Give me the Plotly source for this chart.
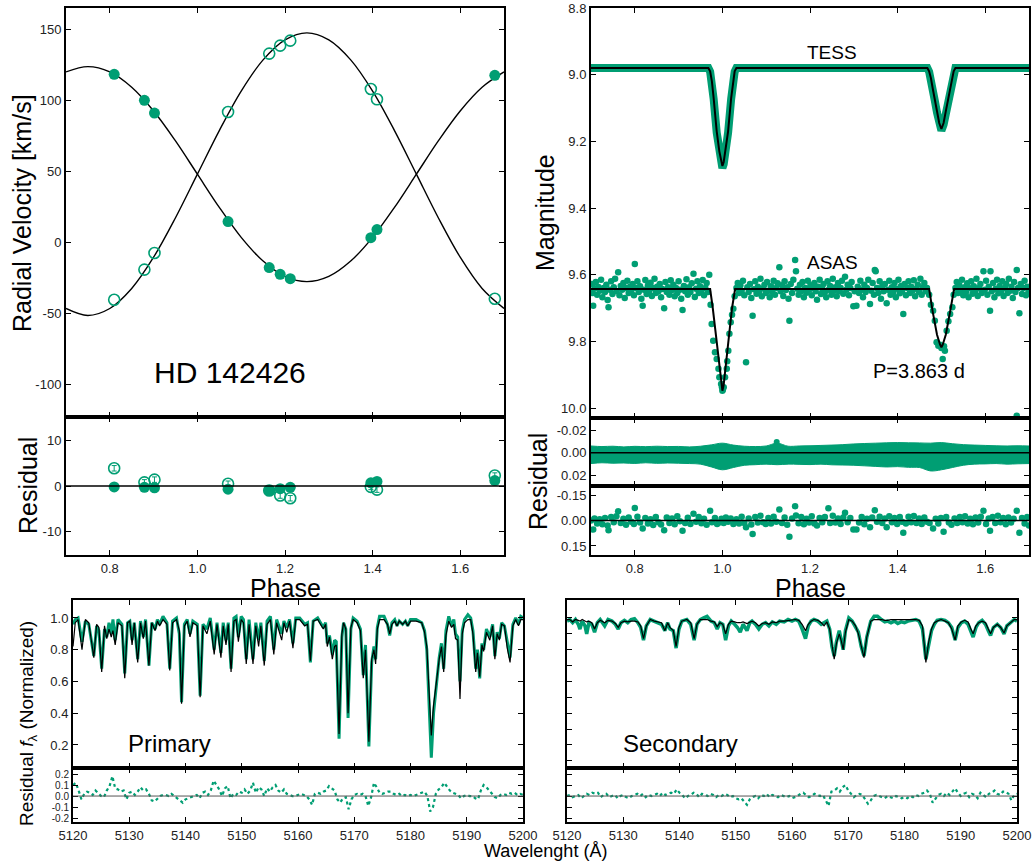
import plotly.graph_objects as go

# ======================= DATA =======================
# --- Radial velocities ---
rv_phase = [0.810, 0.879, 0.902, 1.070, 1.164, 1.189, 1.212, 1.396, 1.410, 1.679]
rv_primary = [118.3, 100.0, 91.0, 14.6, -17.8, -22.5, -25.6, 3.3, 9.0, 117.6]
rv_secondary = [-40.4, -19.2, -7.5, 91.8, 132.9, 138.5, 142.0, 108.0, 100.7, -39.7]
rv_res_primary = [-0.2, -0.3, -0.4, -0.7, -1.0, -0.6, -0.3, 0.7, 1.0, 1.2]
rv_res_secondary = [3.9, 0.8, 1.4, 0.5, -1.0, -2.1, -2.7, -0.2, -0.8, 2.3]
rv_res_secondary_err = [0.6, 0.6, 0.6, 0.6, 0.6, 0.6, 0.6, 0.6, 0.6, 0.6]
# model curves sampled every 0.05 in phase starting at 0.70
rv_model_start, rv_model_step = 0.70, 0.05
rv_model_primary = [120.0, 123.7, 120.0, 109.2, 92.5, 71.4, 48.0, 24.6, 3.5, -13.2, -24.0,
                    -27.7, -24.0, -13.2, 3.5, 24.6, 48.0, 71.4, 92.5, 109.2, 120.0]
rv_model_secondary = [-46.6, -51.5, -46.6, -32.5, -10.5, 17.3, 48.0, 78.7, 106.5, 128.5, 142.6,
                      147.5, 142.6, 128.5, 106.5, 78.7, 48.0, 17.3, -10.5, -32.5, -46.6]

# --- TESS light curve ---
tess_phase = [0.70, 0.968, 0.972, 0.976, 0.980, 0.987, 0.993, 0.997, 1.000, 1.003, 1.007,
              1.013, 1.020, 1.024, 1.028, 1.032, 1.468, 1.472, 1.476, 1.480, 1.485, 1.490,
              1.495, 1.500, 1.505, 1.510, 1.515, 1.520, 1.524, 1.528, 1.532, 1.70]
tess_obs = [8.980, 8.980, 8.991, 9.022, 9.073, 9.174, 9.236, 9.268, 9.280, 9.268, 9.236,
            9.174, 9.073, 9.022, 8.991, 8.980, 8.980, 8.991, 9.012, 9.042, 9.078, 9.114,
            9.150, 9.168, 9.150, 9.114, 9.078, 9.042, 9.012, 8.991, 8.980, 8.980]
tess_model = [8.980, 8.980, 8.990, 9.020, 9.070, 9.170, 9.230, 9.262, 9.274, 9.262, 9.230,
              9.170, 9.070, 9.020, 8.990, 8.980, 8.980, 8.990, 9.010, 9.040, 9.075, 9.110,
              9.145, 9.163, 9.145, 9.110, 9.075, 9.040, 9.010, 8.990, 8.980, 8.980]
# TESS residual scatter envelope, every 0.025 in phase from 0.70
tess_res_start, tess_res_step = 0.70, 0.025
tess_res_upper = [-0.0060, -0.0055, -0.0058, -0.0052, -0.0057, -0.0054, -0.0058, -0.0055, -0.0056,
                  -0.0052, -0.0058, -0.0070, -0.0085, -0.0068, -0.0058, -0.0055, -0.0060, -0.0085,
                  -0.0058, -0.0060, -0.0062, -0.0065, -0.0068, -0.0072, -0.0078, -0.0082, -0.0085,
                  -0.0088, -0.0090, -0.0088, -0.0087, -0.0085, -0.0090, -0.0080, -0.0072, -0.0068,
                  -0.0065, -0.0062, -0.0060, -0.0062, -0.0060]
tess_res_lower = [0.0095, 0.0088, 0.0092, 0.0090, 0.0094, 0.0088, 0.0093, 0.0090, 0.0092, 0.0095,
                  0.0100, 0.0125, 0.0150, 0.0130, 0.0110, 0.0105, 0.0100, 0.0105, 0.0100, 0.0102,
                  0.0104, 0.0100, 0.0106, 0.0108, 0.0110, 0.0115, 0.0120, 0.0125, 0.0122, 0.0128,
                  0.0130, 0.0160, 0.0150, 0.0130, 0.0110, 0.0100, 0.0098, 0.0095, 0.0100, 0.0097,
                  0.0095]
tess_res_outlier_phase = [1.124]
tess_res_outlier = [-0.0095]

# --- ASAS light curve ---
asas_phase = [
    0.702, 0.704, 0.705, 0.708, 0.711, 0.714, 0.717, 0.720, 0.723, 0.726,
    0.729, 0.732, 0.735, 0.738, 0.740, 0.743, 0.746, 0.749, 0.752, 0.755,
    0.758, 0.762, 0.765, 0.768, 0.771, 0.774, 0.777, 0.780, 0.783, 0.786,
    0.789, 0.792, 0.795, 0.798, 0.800, 0.803, 0.806, 0.809, 0.812, 0.815,
    0.818, 0.821, 0.824, 0.827, 0.830, 0.833, 0.836, 0.839, 0.842, 0.845,
    0.848, 0.851, 0.854, 0.857, 0.860, 0.863, 0.867, 0.870, 0.873, 0.876,
    0.879, 0.882, 0.885, 0.888, 0.891, 0.894, 0.897, 0.900, 0.903, 0.906,
    0.909, 0.912, 0.915, 0.918, 0.921, 0.924, 0.927, 0.930, 0.934, 0.937,
    0.940, 0.943, 0.946, 0.949, 0.952, 0.955, 0.958, 0.961, 0.964, 0.967,
    0.970, 0.973, 0.9755, 0.979, 0.983, 0.987, 0.991, 0.993, 0.997, 0.999,
    1.000, 1.001, 1.003, 1.006, 1.010, 1.011, 1.0135, 1.016, 1.019, 1.022,
    1.025, 1.028, 1.032, 1.035, 1.038, 1.041, 1.044, 1.047, 1.050, 1.054,
    1.057, 1.060, 1.063, 1.066, 1.069, 1.072, 1.075, 1.078, 1.081, 1.084,
    1.087, 1.090, 1.093, 1.096, 1.099, 1.102, 1.105, 1.108, 1.111, 1.114,
    1.117, 1.120, 1.123, 1.126, 1.130, 1.133, 1.136, 1.139, 1.142, 1.145,
    1.148, 1.151, 1.153, 1.156, 1.159, 1.162, 1.166, 1.168, 1.171, 1.174,
    1.177, 1.180, 1.183, 1.186, 1.189, 1.192, 1.195, 1.198, 1.201, 1.204,
    1.207, 1.210, 1.213, 1.216, 1.219, 1.222, 1.225, 1.228, 1.231, 1.234,
    1.237, 1.240, 1.243, 1.246, 1.249, 1.252, 1.255, 1.258, 1.261, 1.264,
    1.267, 1.270, 1.273, 1.276, 1.280, 1.283, 1.286, 1.289, 1.292, 1.295,
    1.299, 1.302, 1.306, 1.309, 1.312, 1.315, 1.318, 1.321, 1.324, 1.327,
    1.330, 1.333, 1.337, 1.340, 1.343, 1.346, 1.348, 1.350, 1.353, 1.356,
    1.359, 1.362, 1.365, 1.368, 1.371, 1.375, 1.378, 1.381, 1.384, 1.387,
    1.390, 1.393, 1.396, 1.399, 1.402, 1.405, 1.408, 1.410, 1.413, 1.416,
    1.419, 1.422, 1.425, 1.428, 1.431, 1.434, 1.437, 1.440, 1.443, 1.446,
    1.449, 1.452, 1.455, 1.458, 1.461, 1.464, 1.467, 1.472, 1.476, 1.481,
    1.485, 1.489, 1.493, 1.497, 1.500, 1.503, 1.506, 1.508, 1.512, 1.516,
    1.520, 1.525, 1.528, 1.532, 1.535, 1.538, 1.541, 1.544, 1.547, 1.550,
    1.553, 1.556, 1.559, 1.562, 1.565, 1.568, 1.571, 1.574, 1.577, 1.580,
    1.583, 1.586, 1.589, 1.592, 1.596, 1.599, 1.602, 1.605, 1.608, 1.611,
    1.612, 1.615, 1.618, 1.621, 1.624, 1.627, 1.630, 1.633, 1.636, 1.639,
    1.642, 1.645, 1.648, 1.651, 1.654, 1.657, 1.660, 1.663, 1.666, 1.669,
    1.672, 1.672, 1.675, 1.678, 1.681, 1.684, 1.687, 1.690, 1.693, 1.696,
    1.699]
asas_mag = [
    9.628, 9.655, 9.693, 9.641, 9.622, 9.660, 9.637, 9.648, 9.615, 9.668,
    9.640, 9.652, 9.630, 9.676, 9.698, 9.645, 9.620, 9.658, 9.638, 9.612,
    9.650, 9.593, 9.662, 9.634, 9.645, 9.625, 9.670, 9.640, 9.618, 9.655,
    9.636, 9.648, 9.628, 9.662, 9.568, 9.640, 9.620, 9.652, 9.635, 9.672,
    9.693, 9.645, 9.616, 9.658, 9.632, 9.648, 9.624, 9.664, 9.640, 9.612,
    9.655, 9.636, 9.650, 9.628, 9.668, 9.643, 9.701, 9.622, 9.652, 9.638,
    9.660, 9.617, 9.646, 9.630, 9.665, 9.640, 9.655, 9.620, 9.645, 9.672,
    9.706, 9.634, 9.650, 9.614, 9.660, 9.638, 9.652, 9.626, 9.597, 9.667,
    9.642, 9.620, 9.655, 9.635, 9.648, 9.616, 9.662, 9.640, 9.625, 9.652,
    9.600, 9.690, 9.748, 9.798, 9.833, 9.853, 9.882, 9.908, 9.928, 9.938,
    9.948, 9.945, 9.938, 9.908, 9.882, 9.860, 9.828, 9.777, 9.743, 9.720,
    9.702, 9.665, 9.640, 9.625, 9.655, 9.632, 9.648, 9.618, 9.662, 9.863,
    9.638, 9.652, 9.628, 9.670, 9.723, 9.644, 9.620, 9.657, 9.636, 9.650,
    9.612, 9.665, 9.641, 9.630, 9.655, 9.622, 9.648, 9.668, 9.635, 9.652,
    9.618, 9.660, 9.640, 9.626, 9.578, 9.650, 9.632, 9.664, 9.620, 9.646,
    9.638, 9.672, 9.738, 9.628, 9.655, 9.615, 9.556, 9.590, 9.642, 9.660,
    9.630, 9.650, 9.622, 9.668, 9.640, 9.654, 9.618, 9.645, 9.632, 9.662,
    9.640, 9.625, 9.650, 9.675, 9.636, 9.615, 9.658, 9.642, 9.628, 9.652,
    9.668, 9.620, 9.645, 9.634, 9.660, 9.612, 9.648, 9.638, 9.665, 9.625,
    9.650, 9.640, 9.618, 9.657, 9.606, 9.645, 9.630, 9.662, 9.640, 9.622,
    9.695, 9.650, 9.693, 9.636, 9.655, 9.618, 9.645, 9.668, 9.630, 9.652,
    9.640, 9.615, 9.688, 9.648, 9.625, 9.660, 9.586, 9.590, 9.640, 9.655,
    9.620, 9.672, 9.635, 9.650, 9.628, 9.686, 9.645, 9.618, 9.660, 9.638,
    9.652, 9.625, 9.668, 9.642, 9.615, 9.656, 9.634, 9.650, 9.718, 9.628,
    9.662, 9.640, 9.620, 9.655, 9.636, 9.648, 9.617, 9.665, 9.642, 9.630,
    9.652, 9.612, 9.660, 9.638, 9.625, 9.650, 9.640, 9.660, 9.690, 9.708,
    9.738, 9.803, 9.813, 9.810, 9.820, 9.853, 9.815, 9.828, 9.768, 9.740,
    9.718, 9.698, 9.660, 9.640, 9.622, 9.655, 9.632, 9.648, 9.615, 9.662,
    9.638, 9.652, 9.626, 9.668, 9.641, 9.620, 9.657, 9.635, 9.650, 9.612,
    9.664, 9.640, 9.628, 9.655, 9.590, 9.645, 9.618, 9.660, 9.636, 9.708,
    9.590, 9.650, 9.625, 9.668, 9.642, 9.615, 9.656, 9.634, 9.650, 9.620,
    9.664, 9.640, 9.628, 9.655, 9.612, 9.648, 9.636, 9.670, 9.622, 9.652,
    9.586, 10.023, 9.640, 9.716, 9.628, 9.658, 9.640, 9.618, 9.662, 9.636,
    9.650]
asas_model_phase = [0.70, 0.972, 0.978, 0.985, 0.992, 0.997, 1.000, 1.003, 1.008, 1.015, 1.022,
                    1.029, 1.472, 1.480, 1.490, 1.497, 1.500, 1.503, 1.510, 1.520, 1.529, 1.70]
asas_model = [9.643, 9.643, 9.700, 9.780, 9.870, 9.930, 9.948, 9.930, 9.870, 9.780, 9.700,
              9.643, 9.643, 9.710, 9.780, 9.810, 9.818, 9.810, 9.780, 9.710, 9.643, 9.643]
asas_res_phase = [
    0.700, 0.705, 0.708, 0.714, 0.720, 0.726, 0.732, 0.738, 0.740, 0.746,
    0.752, 0.758, 0.762, 0.768, 0.774, 0.780, 0.786, 0.792, 0.798, 0.800,
    0.806, 0.812, 0.818, 0.824, 0.830, 0.836, 0.842, 0.848, 0.854, 0.860,
    0.867, 0.873, 0.879, 0.885, 0.891, 0.897, 0.903, 0.909, 0.915, 0.921,
    0.927, 0.934, 0.940, 0.946, 0.952, 0.958, 0.964, 0.972, 0.976, 0.983,
    0.988, 0.993, 0.998, 1.003, 1.008, 1.013, 1.019, 1.025, 1.032, 1.038,
    1.044, 1.050, 1.054, 1.060, 1.066, 1.069, 1.075, 1.081, 1.087, 1.093,
    1.099, 1.105, 1.111, 1.117, 1.123, 1.130, 1.136, 1.142, 1.148, 1.153,
    1.159, 1.166, 1.168, 1.174, 1.180, 1.186, 1.192, 1.198, 1.204, 1.210,
    1.216, 1.222, 1.228, 1.234, 1.242, 1.246, 1.252, 1.258, 1.264, 1.270,
    1.276, 1.280, 1.286, 1.292, 1.299, 1.306, 1.312, 1.318, 1.324, 1.330,
    1.337, 1.342, 1.348, 1.353, 1.359, 1.365, 1.371, 1.375, 1.381, 1.387,
    1.393, 1.399, 1.405, 1.410, 1.413, 1.419, 1.425, 1.431, 1.437, 1.443,
    1.449, 1.455, 1.461, 1.467, 1.473, 1.481, 1.487, 1.493, 1.499, 1.505,
    1.511, 1.517, 1.523, 1.530, 1.536, 1.542, 1.548, 1.554, 1.560, 1.566,
    1.572, 1.578, 1.584, 1.590, 1.596, 1.602, 1.608, 1.611, 1.617, 1.623,
    1.629, 1.635, 1.641, 1.647, 1.653, 1.659, 1.665, 1.672, 1.678, 1.684,
    1.690, 1.696, 1.700]
asas_res = [
    0.000, 0.053, -0.012, 0.018, -0.008, 0.022, -0.015, 0.030, 0.057, -0.020,
    0.010, -0.025, -0.055, 0.015, -0.010, 0.025, -0.018, 0.008, 0.020, -0.074,
    -0.022, 0.012, 0.047, -0.015, 0.018, -0.008, 0.026, -0.020, 0.010, 0.024,
    0.057, -0.018, 0.015, -0.012, 0.022, -0.025, 0.005, 0.060, 0.014, -0.016,
    0.020, -0.040, 0.008, -0.020, 0.016, -0.010, 0.025, -0.057, 0.010, -0.015,
    0.020, 0.012, -0.010, 0.015, -0.018, 0.008, -0.012, 0.020, -0.008, 0.018,
    -0.022, 0.015, 0.040, -0.012, 0.024, 0.080, -0.020, 0.012, -0.028, 0.010,
    0.020, -0.015, 0.018, -0.022, 0.008, -0.064, 0.014, -0.018, 0.025, 0.095,
    -0.012, -0.084, -0.030, 0.016, -0.020, 0.022, -0.010, 0.012, -0.025, 0.018,
    0.030, -0.015, 0.010, -0.020, -0.072, 0.015, -0.028, 0.012, -0.012, 0.020,
    -0.018, -0.045, 0.010, -0.015, 0.053, 0.053, 0.012, -0.020, 0.022, -0.010,
    0.040, -0.018, -0.060, 0.008, -0.022, 0.015, -0.012, 0.040, -0.025, 0.010,
    -0.015, 0.020, -0.020, 0.008, 0.072, 0.018, -0.022, 0.010, -0.026, 0.015,
    -0.012, 0.020, -0.018, 0.008, 0.015, 0.047, -0.010, 0.018, -0.015, 0.066,
    -0.020, 0.012, 0.025, -0.012, 0.015, -0.020, 0.010, -0.025, 0.018, -0.010,
    0.022, -0.018, 0.012, -0.022, -0.057, 0.020, -0.012, 0.060, -0.020, 0.015,
    -0.028, 0.010, -0.015, 0.022, -0.018, 0.012, -0.010, -0.057, 0.072, -0.015,
    0.018, -0.020, 0.030]

# --- Spectra: primary ---
prim_wl = [
    5120.0, 5120.4, 5120.9, 5121.6, 5122.2, 5122.8, 5123.3, 5123.7, 5124.2, 5124.6,
    5125.1, 5125.6, 5126.0, 5126.4, 5126.8, 5127.1, 5127.5, 5128.0, 5128.7, 5129.2,
    5129.7, 5130.1, 5130.5, 5130.9, 5131.5, 5132.0, 5132.5, 5132.9, 5133.5, 5134.0,
    5134.6, 5135.0, 5135.4, 5136.0, 5136.7, 5137.2, 5137.7, 5138.4, 5138.9, 5139.3,
    5139.8, 5140.3, 5140.8, 5141.3, 5142.1, 5142.6, 5143.1, 5143.8, 5144.4, 5145.1,
    5145.6, 5146.3, 5146.7, 5147.2, 5147.6, 5148.1, 5148.6, 5149.0, 5149.4, 5149.9,
    5150.3, 5150.8, 5151.3, 5152.0, 5152.5, 5153.0, 5153.4, 5154.0, 5154.5, 5155.1,
    5155.7, 5156.2, 5157.1, 5157.5, 5158.0, 5158.5, 5159.1, 5159.6, 5160.3, 5161.2,
    5161.7, 5162.2, 5162.7, 5163.5, 5164.5, 5164.9, 5165.2, 5165.6, 5166.1, 5166.5,
    5166.8, 5167.3, 5167.8, 5168.1, 5168.5, 5168.9, 5169.4, 5169.8, 5170.5, 5171.1,
    5171.6, 5172.0, 5172.6, 5173.1, 5173.5, 5173.8, 5174.1, 5174.5, 5175.3, 5175.9,
    5176.3, 5176.7, 5177.2, 5177.6, 5178.0, 5178.6, 5179.1, 5179.5, 5180.0, 5181.0,
    5182.0, 5182.5, 5182.9, 5183.3, 5183.7, 5184.1, 5184.6, 5185.1, 5185.5, 5185.9,
    5186.3, 5186.8, 5187.3, 5187.7, 5188.0, 5188.4, 5188.8, 5189.2, 5189.6, 5190.2,
    5190.7, 5191.1, 5191.6, 5191.9, 5192.3, 5192.7, 5193.0, 5193.5, 5194.1, 5194.6,
    5195.0, 5195.4, 5195.8, 5196.2, 5196.7, 5197.2, 5197.7, 5198.2, 5198.7, 5199.2,
    5199.6, 5200.0]
prim_obs = [
    0.96, 0.99, 1.00, 0.85, 0.98, 0.96, 0.85, 0.76, 0.95, 0.92,
    0.68, 0.93, 0.88, 0.97, 0.90, 0.99, 0.86, 0.99, 0.96, 0.65,
    0.97, 0.98, 0.86, 0.97, 0.74, 0.98, 0.88, 0.99, 0.70, 0.97,
    0.93, 0.99, 0.96, 1.01, 0.97, 0.68, 0.98, 1.00, 0.90, 0.47,
    0.96, 0.99, 0.90, 0.98, 0.96, 0.51, 0.96, 0.93, 1.00, 0.80,
    0.97, 0.78, 0.97, 0.86, 0.97, 0.68, 1.00, 1.01, 0.88, 1.01,
    0.99, 0.74, 0.99, 0.74, 0.97, 0.86, 0.97, 0.73, 0.98, 1.01,
    0.80, 0.99, 0.90, 0.98, 0.94, 0.99, 0.84, 1.00, 1.00, 0.96,
    0.97, 0.72, 0.98, 1.00, 0.94, 0.97, 0.84, 0.89, 0.77, 0.86,
    0.85, 0.24, 0.88, 0.97, 0.93, 0.37, 0.93, 1.00, 0.98, 0.93,
    0.64, 0.83, 0.19, 0.72, 0.82, 0.74, 0.94, 1.01, 1.01, 0.96,
    0.89, 0.97, 0.99, 0.95, 0.98, 0.96, 0.98, 0.95, 0.99, 0.99,
    0.97, 0.92, 0.80, 0.45, 0.12, 0.40, 0.60, 0.75, 0.84, 0.68,
    0.92, 1.01, 0.95, 0.99, 0.90, 0.88, 0.60, 0.92, 0.99, 1.02,
    1.00, 0.92, 0.68, 0.80, 0.62, 0.84, 0.80, 0.93, 0.88, 0.96,
    0.76, 0.91, 0.87, 0.97, 0.95, 0.84, 0.75, 0.96, 1.00, 0.96,
    1.01, 1.00]
prim_model = [
    0.82, 0.97, 0.99, 0.80, 0.99, 0.97, 0.85, 0.75, 0.96, 0.94,
    0.66, 0.95, 0.87, 0.93, 0.88, 0.92, 0.83, 0.97, 0.95, 0.62,
    0.97, 0.98, 0.83, 0.97, 0.72, 0.97, 0.87, 0.98, 0.70, 0.97,
    0.92, 0.98, 0.95, 0.99, 0.96, 0.67, 0.97, 0.99, 0.92, 0.46,
    0.95, 0.98, 0.88, 0.97, 0.95, 0.50, 0.95, 0.90, 0.98, 0.77,
    0.96, 0.75, 0.95, 0.83, 0.96, 0.66, 0.98, 0.99, 0.85, 0.99,
    0.97, 0.71, 0.96, 0.71, 0.95, 0.82, 0.95, 0.70, 0.96, 0.99,
    0.77, 0.97, 0.86, 0.97, 0.91, 0.98, 0.81, 0.99, 0.99, 0.95,
    0.96, 0.73, 0.98, 0.99, 0.93, 0.96, 0.82, 0.88, 0.74, 0.82,
    0.83, 0.27, 0.90, 0.97, 0.93, 0.40, 0.94, 0.99, 0.97, 0.92,
    0.62, 0.80, 0.22, 0.74, 0.80, 0.71, 0.93, 0.99, 0.99, 0.96,
    0.90, 0.96, 0.98, 0.95, 0.98, 0.96, 0.98, 0.95, 0.98, 0.98,
    0.97, 0.91, 0.82, 0.50, 0.26, 0.45, 0.60, 0.74, 0.82, 0.66,
    0.89, 0.98, 0.94, 0.96, 0.87, 0.86, 0.49, 0.90, 0.97, 0.99,
    0.99, 0.90, 0.66, 0.78, 0.63, 0.83, 0.79, 0.91, 0.86, 0.95,
    0.74, 0.90, 0.86, 0.96, 0.95, 0.81, 0.72, 0.95, 0.99, 0.95,
    0.99, 0.99]
# residuals sampled every 0.5 A from 5120 A
spec_res_start, spec_res_step = 5120.0, 0.5
prim_res = [
    0.10, 0.12, 0.05, -0.03, 0.02, 0.04, 0.03, 0.01, 0.05, 0.02,
    0.00, -0.01, 0.05, 0.09, 0.18, 0.07, 0.06, 0.04, 0.05, -0.03,
    0.03, 0.04, 0.01, 0.04, 0.08, 0.05, 0.06, 0.02, -0.04, -0.05,
    -0.02, 0.00, 0.01, 0.01, 0.00, 0.02, 0.00, -0.02, -0.04, -0.06,
    -0.03, -0.02, -0.01, 0.00, 0.01, -0.02, 0.03, 0.04, 0.01, 0.05,
    0.14, 0.10, 0.06, 0.00, 0.07, 0.09, -0.02, 0.02, 0.01, 0.04,
    0.03, 0.06, 0.02, 0.05, 0.12, 0.03, 0.08, 0.06, 0.00, 0.07,
    0.04, 0.08, 0.10, 0.05, 0.03, 0.06, 0.02, 0.01, 0.00, 0.00,
    0.01, 0.02, 0.01, 0.00, -0.03, -0.08, 0.02, 0.03, 0.02, 0.04,
    0.05, 0.09, 0.07, 0.05, -0.03, -0.06, -0.02, -0.01, -0.12, -0.03,
    0.01, 0.02, 0.01, 0.02, 0.00, -0.09, -0.01, 0.12, 0.08, 0.03,
    0.02, 0.03, 0.04, 0.04, 0.02, 0.01, 0.02, 0.00, 0.01, 0.00,
    0.01, 0.00, 0.01, 0.02, 0.03, 0.04, 0.00, -0.14, -0.10, 0.02,
    0.06, 0.08, 0.12, 0.08, 0.05, 0.03, 0.02, 0.01, -0.02, 0.00,
    0.01, 0.00, 0.00, -0.02, -0.03, 0.05, 0.10, 0.08, 0.05, 0.02,
    -0.01, -0.02, 0.01, 0.02, 0.01, 0.03, 0.02, 0.03, 0.01, 0.02,
    0.01]

# --- Spectra: secondary ---
sec_wl = [
    5120.0, 5120.5, 5121.0, 5121.5, 5122.0, 5122.3, 5122.7, 5123.2, 5123.5, 5123.9,
    5124.4, 5124.9, 5125.4, 5125.9, 5126.7, 5127.3, 5128.0, 5128.6, 5129.1, 5129.6,
    5130.2, 5130.8, 5131.4, 5132.0, 5132.6, 5133.1, 5133.6, 5134.1, 5134.8, 5135.5,
    5136.2, 5136.8, 5137.4, 5137.9, 5138.3, 5138.9, 5139.4, 5139.9, 5140.4, 5141.3,
    5142.0, 5142.6, 5143.1, 5143.7, 5144.3, 5144.9, 5145.6, 5146.2, 5146.7, 5147.2,
    5147.7, 5148.2, 5148.7, 5149.2, 5149.8, 5150.3, 5150.8, 5151.3, 5152.0, 5152.5,
    5152.9, 5153.5, 5154.1, 5154.7, 5155.3, 5155.9, 5156.5, 5157.2, 5157.8, 5158.6,
    5159.3, 5160.0, 5160.6, 5161.2, 5161.8, 5162.4, 5162.9, 5163.4, 5163.9, 5164.6,
    5165.2, 5165.7, 5166.2, 5166.7, 5167.1, 5167.5, 5167.9, 5168.4, 5168.8, 5169.1,
    5169.5, 5170.1, 5170.7, 5171.3, 5171.8, 5172.3, 5172.8, 5173.3, 5174.0, 5174.6,
    5175.2, 5175.9, 5176.5, 5177.0, 5177.6, 5178.2, 5178.8, 5179.4, 5180.0, 5180.6,
    5181.3, 5182.0, 5182.6, 5183.2, 5183.8, 5184.3, 5184.8, 5185.3, 5185.8, 5186.5,
    5187.2, 5187.8, 5188.4, 5189.0, 5189.5, 5190.1, 5190.7, 5191.3, 5191.8, 5192.2,
    5192.7, 5193.2, 5193.8, 5194.4, 5194.9, 5195.3, 5195.8, 5196.5, 5197.1, 5197.7,
    5198.2, 5198.9, 5199.5, 5200.0]
sec_obs = [
    0.98, 0.99, 0.97, 0.99, 0.96, 0.93, 0.98, 0.95, 0.90, 0.97,
    0.96, 0.91, 0.97, 0.99, 0.95, 0.99, 0.98, 0.96, 0.93, 0.97,
    0.985, 0.97, 0.99, 0.995, 0.97, 0.94, 0.86, 0.95, 0.99, 0.98,
    0.97, 0.96, 0.92, 0.97, 0.93, 0.92, 0.81, 0.93, 0.98, 0.99,
    0.96, 0.86, 0.96, 0.99, 1.00, 1.01, 0.98, 0.97, 0.93, 0.97,
    0.96, 0.86, 0.95, 0.98, 0.96, 0.94, 0.91, 0.96, 0.92, 0.97,
    0.98, 0.96, 0.93, 0.96, 0.97, 0.95, 0.975, 0.96, 0.98, 0.975,
    0.99, 0.98, 0.99, 0.98, 0.93, 0.87, 0.95, 0.98, 0.99, 0.98,
    0.96, 0.97, 0.98, 0.93, 0.82, 0.76, 0.85, 0.92, 0.86, 0.80,
    0.92, 1.00, 0.98, 0.94, 0.91, 0.82, 0.76, 0.88, 0.98, 1.01,
    1.01, 0.99, 0.975, 0.98, 0.97, 0.98, 0.965, 0.975, 0.97, 0.98,
    0.985, 0.99, 0.98, 0.93, 0.74, 0.84, 0.92, 0.96, 0.985, 0.99,
    0.985, 0.97, 0.94, 0.86, 0.94, 0.97, 0.98, 0.96, 0.92, 0.88,
    0.94, 0.97, 0.985, 0.96, 0.92, 0.89, 0.94, 0.96, 0.94, 0.90,
    0.95, 0.97, 0.99, 0.98]
sec_model = [
    0.99, 0.99, 0.975, 0.99, 0.985, 0.98, 0.99, 0.98, 0.975, 0.98,
    0.97, 0.93, 0.97, 0.985, 0.97, 0.985, 0.98, 0.965, 0.94, 0.97,
    0.98, 0.975, 0.98, 0.98, 0.975, 0.95, 0.87, 0.95, 0.99, 0.98,
    0.975, 0.97, 0.92, 0.97, 0.94, 0.92, 0.82, 0.94, 0.98, 0.99,
    0.97, 0.87, 0.96, 0.99, 0.99, 0.99, 0.98, 0.975, 0.945, 0.97,
    0.96, 0.90, 0.96, 0.98, 0.975, 0.97, 0.97, 0.975, 0.965, 0.975,
    0.98, 0.97, 0.95, 0.965, 0.97, 0.96, 0.975, 0.97, 0.98, 0.98,
    0.985, 0.99, 0.99, 0.985, 0.96, 0.92, 0.96, 0.98, 0.99, 0.985,
    0.97, 0.95, 0.975, 0.93, 0.82, 0.74, 0.84, 0.90, 0.85, 0.80,
    0.91, 0.99, 0.98, 0.95, 0.90, 0.83, 0.75, 0.88, 0.98, 0.99,
    0.99, 0.99, 0.985, 0.985, 0.99, 0.99, 0.99, 0.99, 0.99, 0.99,
    0.99, 0.99, 0.985, 0.95, 0.72, 0.85, 0.93, 0.97, 0.98, 0.99,
    0.98, 0.97, 0.93, 0.86, 0.95, 0.975, 0.985, 0.975, 0.93, 0.90,
    0.95, 0.97, 0.98, 0.97, 0.93, 0.90, 0.94, 0.96, 0.94, 0.905,
    0.95, 0.975, 0.99, 0.99]
sec_res = [
    0.00, 0.01, -0.01, 0.00, 0.01, -0.02, 0.00, 0.02, 0.01, 0.03,
    0.02, 0.03, -0.01, 0.01, 0.02, -0.01, 0.00, 0.01, -0.02, 0.00,
    0.01, -0.01, -0.02, 0.00, 0.01, 0.02, 0.00, 0.02, -0.01, 0.01,
    0.00, 0.01, 0.02, 0.00, 0.03, 0.01, 0.02, 0.03, 0.02, 0.06,
    0.03, 0.01, -0.02, 0.00, 0.01, 0.03, 0.02, -0.01, 0.02, 0.01,
    0.00, 0.02, 0.01, -0.01, 0.01, 0.00, 0.02, 0.01, -0.01, 0.00,
    -0.02, -0.03, -0.02, -0.05, -0.08, -0.03, -0.01, 0.00, -0.02, 0.01,
    0.00, 0.02, -0.01, 0.01, 0.00, -0.01, 0.01, 0.00, -0.01, 0.00,
    -0.02, -0.01, 0.00, 0.02, 0.03, 0.01, -0.01, 0.00, 0.02, 0.01,
    0.00, 0.01, -0.04, -0.09, 0.04, 0.05, 0.07, 0.04, 0.08, 0.10,
    0.05, 0.02, -0.01, 0.01, 0.02, 0.01, -0.03, -0.07, -0.04, 0.00,
    0.01, 0.00, -0.01, -0.02, 0.00, -0.01, -0.02, 0.00, -0.01, -0.02,
    -0.01, -0.02, 0.00, -0.01, 0.01, 0.00, 0.02, 0.03, 0.05, 0.02,
    -0.06, -0.02, 0.01, 0.02, 0.00, 0.03, 0.01, 0.04, 0.07, 0.03,
    0.00, 0.02, 0.03, -0.01, 0.02, 0.01, -0.02, 0.03, 0.01, -0.01,
    0.02, 0.03, 0.05, 0.02, 0.01, 0.04, 0.04, 0.02, -0.04, 0.01,
    0.02]

# --- tick values / labels ---
phase_ticks = [0.8, 1.0, 1.2, 1.4, 1.6]
phase_ticktext = ["0.8", "1.0", "1.2", "1.4", "1.6"]
rv_ticks = [-100, -50, 0, 50, 100, 150]
rv_ticktext = ["-100", "-50", "0", "50", "100", "150"]
rvres_ticks = [-10, 0, 10]
rvres_ticktext = ["-10", "0", "10"]
mag_ticks = [8.8, 9.0, 9.2, 9.4, 9.6, 9.8, 10.0]
mag_ticktext = ["8.8", "9.0", "9.2", "9.4", "9.6", "9.8", "10.0"]
tres_ticks = [-0.02, 0.0, 0.02]
tres_ticktext = ["-0.02", "0.00", "0.02"]
ares_ticks = [-0.15, 0.0, 0.15]
ares_ticktext = ["-0.15", "0.00", "0.15"]
wl_ticks = [5120, 5130, 5140, 5150, 5160, 5170, 5180, 5190, 5200]
wl_ticktext = ["5120", "5130", "5140", "5150", "5160", "5170", "5180", "5190", "5200"]
flux_ticks = [0.2, 0.4, 0.6, 0.8, 1.0]
flux_ticktext = ["0.2", "0.4", "0.6", "0.8", "1.0"]
flux_fine_ticks = [0.1, 0.2, 0.3, 0.4, 0.5, 0.6, 0.7, 0.8, 0.9, 1.0]
sres_ticks = [-0.2, -0.1, 0.0, 0.1, 0.2]
sres_ticktext = ["-0.2", "-0.1", "0.0", "0.1", "0.2"]

# ======================= FIGURE =======================
W, H = 1032, 862
GREEN = "#009E73"
FONT = "Liberation Sans, Arial, Helvetica, sans-serif"
TICKFONT = dict(family=FONT, size=13, color="#222")
SMALLTICKFONT = dict(family=FONT, size=10, color="#222")


def xd(a, b):
    return [a / W, b / W]


def yd(top, bottom):
    return [1 - bottom / H, 1 - top / H]


def frame(domain, rng, anchor, tickvals, ticktext=None, labels=True, font=TICKFONT):
    d = dict(domain=domain, range=rng, autorange=False, anchor=anchor, automargin=False,
             showline=True, linewidth=2, linecolor="black", mirror="ticks", ticks="inside",
             ticklen=5, tickwidth=1.3, tickcolor="black", showgrid=False, zeroline=False,
             tickfont=font, tickmode="array", tickvals=tickvals,
             showticklabels=labels)
    if ticktext is not None:
        d["ticktext"] = ticktext
    return d


fig = go.Figure()

# ---- RV panel ----
fig.add_trace(go.Scatter(x0=rv_model_start, dx=rv_model_step, y=rv_model_primary, mode="lines",
                         line=dict(color="black", width=1.4, shape="spline"),
                         xaxis="x", yaxis="y"))
fig.add_trace(go.Scatter(x0=rv_model_start, dx=rv_model_step, y=rv_model_secondary, mode="lines",
                         line=dict(color="black", width=1.4, shape="spline"),
                         xaxis="x", yaxis="y"))
fig.add_trace(go.Scatter(x=rv_phase, y=rv_primary, mode="markers",
                         marker=dict(color=GREEN, size=11, symbol="circle"),
                         xaxis="x", yaxis="y"))
fig.add_trace(go.Scatter(x=rv_phase, y=rv_secondary, mode="markers",
                         marker=dict(color=GREEN, size=11, symbol="circle-open",
                                     line=dict(width=1.6, color=GREEN)),
                         xaxis="x", yaxis="y"))
# ---- RV residuals ----
fig.add_trace(go.Scatter(x=rv_phase, y=rv_res_secondary, mode="markers",
                         marker=dict(color=GREEN, size=11, symbol="circle-open",
                                     line=dict(width=1.6, color=GREEN)),
                         error_y=dict(type="data", array=rv_res_secondary_err, color=GREEN,
                                      thickness=1, width=2.5),
                         xaxis="x2", yaxis="y2"))
fig.add_trace(go.Scatter(x=rv_phase, y=rv_res_primary, mode="markers",
                         marker=dict(color=GREEN, size=11, symbol="circle"),
                         xaxis="x2", yaxis="y2"))

# ---- Light curves ----
fig.add_trace(go.Scatter(x=tess_phase, y=tess_obs, mode="lines",
                         line=dict(color=GREEN, width=8), xaxis="x3", yaxis="y3"))
fig.add_trace(go.Scatter(x=tess_phase, y=tess_model, mode="lines",
                         line=dict(color="black", width=2), xaxis="x3", yaxis="y3"))
fig.add_trace(go.Scatter(x=asas_phase, y=asas_mag, mode="markers",
                         marker=dict(color=GREEN, size=6.5), xaxis="x3", yaxis="y3"))
fig.add_trace(go.Scatter(x=asas_model_phase, y=asas_model, mode="lines",
                         line=dict(color="black", width=2), xaxis="x3", yaxis="y3"))

# ---- TESS residuals ----
fig.add_trace(go.Scatter(x0=tess_res_start, dx=tess_res_step, y=tess_res_lower, mode="lines",
                         line=dict(color=GREEN, width=1, shape="spline"),
                         xaxis="x4", yaxis="y4"))
fig.add_trace(go.Scatter(x0=tess_res_start, dx=tess_res_step, y=tess_res_upper, mode="lines",
                         line=dict(color=GREEN, width=1, shape="spline"), fill="tonexty",
                         fillcolor=GREEN, xaxis="x4", yaxis="y4"))
fig.add_trace(go.Scatter(x=tess_res_outlier_phase, y=tess_res_outlier, mode="markers",
                         marker=dict(color=GREEN, size=6), xaxis="x4", yaxis="y4"))

# ---- ASAS residuals ----
fig.add_trace(go.Scatter(x=asas_res_phase, y=asas_res, mode="markers",
                         marker=dict(color=GREEN, size=6.5), xaxis="x5", yaxis="y5"))

# ---- Primary spectrum ----
fig.add_trace(go.Scatter(x=prim_wl, y=prim_obs, mode="lines",
                         line=dict(color=GREEN, width=3), xaxis="x6", yaxis="y6"))
fig.add_trace(go.Scatter(x=prim_wl, y=prim_model, mode="lines",
                         line=dict(color="black", width=1.2), xaxis="x6", yaxis="y6"))
fig.add_trace(go.Scatter(x0=spec_res_start, dx=spec_res_step, y=prim_res, mode="lines",
                         line=dict(color=GREEN, width=2.2, dash="dot"),
                         xaxis="x7", yaxis="y7"))

# ---- Secondary spectrum ----
fig.add_trace(go.Scatter(x=sec_wl, y=sec_obs, mode="lines",
                         line=dict(color=GREEN, width=3.5), xaxis="x8", yaxis="y8"))
fig.add_trace(go.Scatter(x=sec_wl, y=sec_model, mode="lines",
                         line=dict(color="black", width=1.2), xaxis="x8", yaxis="y8"))
fig.add_trace(go.Scatter(x0=spec_res_start, dx=spec_res_step, y=sec_res, mode="lines",
                         line=dict(color=GREEN, width=2.2, dash="dot"),
                         xaxis="x9", yaxis="y9"))

# ---- zero lines in residual panels ----
shapes = []
for xa, ya, col, w in [("x2", "y2", "black", 1.5), ("x4", "y4", "black", 1.5),
                       ("x5", "y5", "black", 1.5), ("x7", "y7", "#555", 1),
                       ("x9", "y9", "#555", 1)]:
    shapes.append(dict(type="line", xref=f"{xa} domain", x0=0, x1=1, yref=ya, y0=0, y1=0,
                       line=dict(color=col, width=w), layer="above"))

# ---- text ----
annots = []
for text, px, py, size, ang in [
    ("Radial Velocity [km/s]", 22, 213, 25, -90),
    ("Residual", 28, 486, 25, -90),
    ("Phase", 285, 588, 25, 0),
    ("Magnitude", 545, 213, 25, -90),
    ("Residual", 538, 482, 25, -90),
    ("Phase", 810, 588, 25, 0),
    ("Residual <i>f</i><sub>λ</sub> (Normalized)", 28, 724, 19, -90),
    ("Wavelenght (Å)", 545, 851, 18, 0),
    ("HD 142426", 230, 372, 30, 0),
    ("TESS", 832, 52, 19, 0),
    ("ASAS", 832, 262, 19, 0),
    ("P=3.863 d", 919, 371, 20, 0),
    ("Primary", 169, 743, 24, 0),
    ("Secondary", 680, 743, 24, 0),
]:
    annots.append(dict(text=text, xref="paper", yref="paper", x=px / W, y=1 - py / H,
                       xanchor="center", yanchor="middle", showarrow=False, textangle=ang,
                       font=dict(family=FONT, size=size, color="black")))

fig.update_layout(
    width=W, height=H, autosize=False, margin=dict(l=0, r=0, t=0, b=0, pad=0),
    paper_bgcolor="white", plot_bgcolor="white", showlegend=False,
    font=dict(family=FONT, color="black"),
    xaxis=frame(xd(66, 504), [0.7, 1.7], "y", phase_ticks, phase_ticktext, False),
    yaxis=frame(yd(8, 417), [-123, 165], "x", rv_ticks, rv_ticktext),
    xaxis2=frame(xd(66, 504), [0.7, 1.7], "y2", phase_ticks, phase_ticktext, True),
    yaxis2=frame(yd(417, 555), [-15.2, 15.2], "x2", rvres_ticks, rvres_ticktext),
    xaxis3=frame(xd(591, 1029), [0.7, 1.7], "y3", phase_ticks, phase_ticktext, False),
    yaxis3=frame(yd(8, 418), [10.03, 8.8], "x3", mag_ticks, mag_ticktext),
    xaxis4=frame(xd(591, 1029), [0.7, 1.7], "y4", phase_ticks, phase_ticktext, False),
    yaxis4=frame(yd(418, 486), [0.0293, -0.0307], "x4", tres_ticks, tres_ticktext),
    xaxis5=frame(xd(591, 1029), [0.7, 1.7], "y5", phase_ticks, phase_ticktext, True),
    yaxis5=frame(yd(486, 555), [0.203, -0.203], "x5", ares_ticks, ares_ticktext),
    xaxis6=frame(xd(73, 523), [5120, 5200], "y6", wl_ticks, wl_ticktext, False),
    yaxis6=frame(yd(600, 768), [0.055, 1.113], "x6", flux_ticks, flux_ticktext),
    xaxis7=frame(xd(73, 523), [5120, 5200], "y7", wl_ticks, wl_ticktext, True),
    yaxis7=frame(yd(768, 822), [-0.236, 0.255], "x7", sres_ticks, sres_ticktext, True,
                 SMALLTICKFONT),
    xaxis8=frame(xd(567, 1017), [5120, 5200], "y8", wl_ticks, wl_ticktext, False),
    yaxis8=frame(yd(600, 768), [0.055, 1.113], "x8", flux_fine_ticks, None, False),
    xaxis9=frame(xd(567, 1017), [5120, 5200], "y9", wl_ticks, wl_ticktext, True),
    yaxis9=frame(yd(768, 822), [-0.236, 0.255], "x9", sres_ticks, None, False),
    shapes=shapes, annotations=annots,
)

fig.write_html(
    "out.html",
    config={"displayModeBar": False, "responsive": False},
    post_script="document.body.style.margin='0px';",
)
